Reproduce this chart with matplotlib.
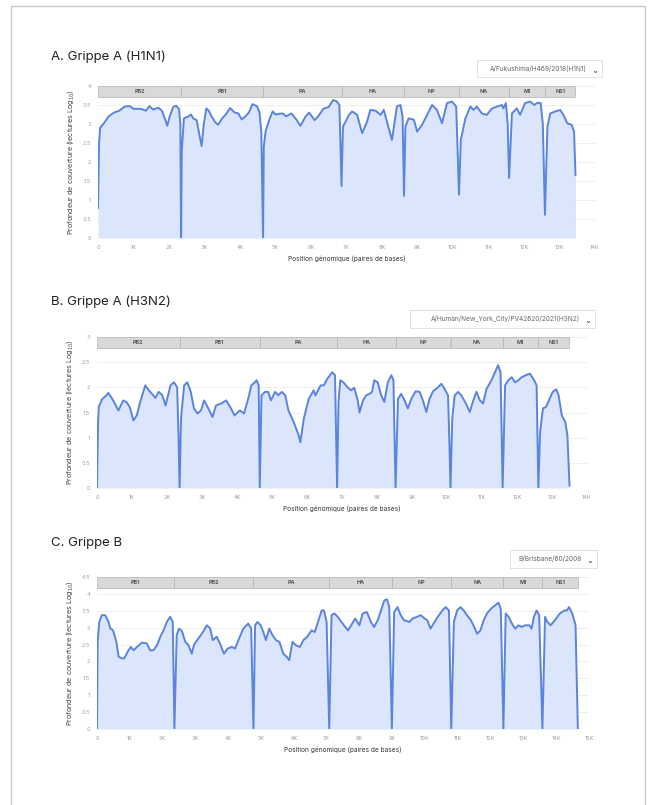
import matplotlib.pyplot as plt
from matplotlib.patches import Rectangle
import matplotlib.transforms as mtransforms

plt.rcParams['font.family'] = ['Inter', 'DejaVu Sans']

# ---- data (positions in kb, coverage in log10 reads) ----
genes_a = ["PB2", "PB1", "PA", "HA", "NP", "NA", "M1", "NS1"]
bounds_a = [0, 2.34, 4.65, 6.86, 8.62, 10.17, 11.58, 12.59, 13.45]
pos_a = [0.0, 0.03, 0.06, 0.15, 0.3, 0.45, 0.6, 0.75, 0.9, 1.0, 1.2, 1.35, 1.45, 1.55, 1.7, 1.8, 1.9, 1.95,
         2.02, 2.12, 2.2, 2.28, 2.32, 2.34, 2.36, 2.42, 2.55, 2.62, 2.68, 2.78, 2.88, 2.92, 2.98, 3.05, 3.12,
         3.2, 3.3, 3.38, 3.5, 3.6, 3.72, 3.85, 3.95, 4.05, 4.15, 4.25, 4.35, 4.48, 4.55, 4.6, 4.65, 4.67, 4.72,
         4.82, 4.92, 5.0, 5.2, 5.3, 5.45, 5.6, 5.7, 5.85, 5.95, 6.1, 6.2, 6.35, 6.5, 6.62, 6.72, 6.8, 6.86,
         6.9, 7.07, 7.16, 7.3, 7.44, 7.58, 7.67, 7.82, 7.96, 8.05, 8.14, 8.28, 8.42, 8.52, 8.58, 8.62, 8.66,
         8.75, 8.9, 8.99, 9.13, 9.27, 9.41, 9.55, 9.69, 9.83, 9.97, 10.09, 10.17, 10.22, 10.35, 10.49, 10.58,
         10.67, 10.81, 10.95, 11.1, 11.24, 11.38, 11.42, 11.49, 11.54, 11.58, 11.66, 11.8, 11.89, 12.03,
         12.17, 12.29, 12.38, 12.47, 12.53, 12.59, 12.66, 12.74, 12.88, 13.02, 13.11, 13.22, 13.34, 13.41,
         13.45]
cov_a = [0.79, 2.5, 2.9, 3.0, 3.2, 3.3, 3.35, 3.46, 3.47, 3.4, 3.4, 3.35, 3.47, 3.38, 3.43, 3.35, 3.1, 2.95,
         3.2, 3.45, 3.48, 3.4, 3.0, 0.0, 2.3, 3.15, 3.2, 3.25, 3.15, 3.1, 2.6, 2.42, 3.0, 3.41, 3.35,
         3.2, 3.05, 2.98, 3.15, 3.25, 3.42, 3.3, 3.28, 3.12, 3.2, 3.3, 3.52, 3.47, 3.3, 2.8, 0.0, 2.4, 2.8,
         3.1, 3.33, 3.25, 3.28, 3.2, 3.28, 3.1, 2.95, 3.2, 3.3, 3.1, 3.2, 3.4, 3.45, 3.63, 3.6, 3.5, 1.37,
         2.93, 3.24, 3.33, 3.24, 2.76, 3.06, 3.37, 3.35, 3.24, 3.37, 3.06, 2.58, 3.46, 3.5, 3.2, 1.11, 2.93,
         3.15, 3.11, 2.8, 2.98, 3.24, 3.5, 3.37, 3.02, 3.55, 3.59, 3.46, 1.14, 2.58, 3.15, 3.46, 3.37,
         3.46, 3.28, 3.24, 3.41, 3.46, 3.5, 3.41, 3.55, 3.0, 1.58, 3.28, 3.41, 3.24, 3.55,
         3.59, 3.5, 3.56, 3.55, 3.0, 0.61, 2.93, 3.28, 3.33, 3.37, 3.24, 3.02, 2.98, 2.8,
         1.66]

genes_b = ["PB2", "PB1", "PA", "HA", "NP", "NA", "M1", "NS1"]
bounds_b = [0, 2.36, 4.65, 6.86, 8.53, 10.1, 11.59, 12.61, 13.5]
pos_b = [0.0, 0.03, 0.05, 0.15, 0.27, 0.32, 0.41, 0.51, 0.61, 0.75, 0.85, 0.94, 1.04, 1.14, 1.23, 1.38, 1.47,
         1.67, 1.76, 1.86, 1.96, 2.1, 2.2, 2.29, 2.33, 2.36, 2.4, 2.49, 2.58, 2.68, 2.77, 2.87, 2.97, 3.06,
         3.16, 3.3, 3.4, 3.55, 3.69, 3.83, 3.93, 4.08, 4.2, 4.32, 4.41, 4.51, 4.56, 4.62, 4.65, 4.7, 4.8,
         4.89, 4.97, 5.09, 5.18, 5.28, 5.38, 5.47, 5.62, 5.76, 5.81, 5.91, 6.05, 6.19, 6.24, 6.39, 6.48,
         6.58, 6.72, 6.8, 6.86, 6.9, 6.95, 7.04, 7.16, 7.26, 7.35, 7.45, 7.5, 7.6, 7.69, 7.78, 7.86, 7.92,
         8.02, 8.12, 8.21, 8.31, 8.41, 8.47, 8.53, 8.6, 8.69, 8.79, 8.88, 8.98, 9.1, 9.22, 9.31, 9.41, 9.5,
         9.6, 9.74, 9.84, 9.93, 10.03, 10.07, 10.1, 10.15, 10.22, 10.32, 10.41, 10.54, 10.65, 10.75, 10.84,
         10.94, 11.03, 11.13, 11.27, 11.37, 11.46, 11.53, 11.59, 11.66, 11.75, 11.85, 11.94, 12.04, 12.13,
         12.28, 12.37, 12.49, 12.56, 12.61, 12.66, 12.74, 12.83, 12.93, 13.02, 13.12, 13.19, 13.28, 13.38,
         13.44, 13.5]
cov_b = [0.0, 1.3, 1.61, 1.77, 1.84, 1.89, 1.8, 1.68, 1.54, 1.74, 1.7, 1.6, 1.34, 1.45, 1.7, 2.04, 1.95,
         1.79, 1.91, 1.85, 1.64, 2.04, 2.1, 2.0, 1.0, 0.0, 1.38, 2.04, 2.1, 1.91, 1.58, 1.48, 1.54, 1.74,
         1.61, 1.41, 1.64, 1.68, 1.74, 1.58, 1.44, 1.54, 1.48, 1.77, 2.04, 2.1, 2.14, 2.04, 0.0, 1.84, 1.91,
         1.91, 1.74, 1.91, 1.84, 1.91, 1.84, 1.54, 1.31, 1.05, 0.91, 1.38, 1.77, 1.94, 1.84, 2.04, 2.04,
         2.17, 2.3, 2.24, 0.0, 1.71, 2.14, 2.1, 2.0, 1.94, 1.99, 1.74, 1.5, 1.74, 1.84, 1.87, 1.91, 2.14,
         2.1, 1.84, 1.71, 2.1, 2.24, 2.14, 0.0, 1.77, 1.87, 1.74, 1.58, 1.77, 1.92, 1.91, 1.74, 1.51, 1.77,
         1.92, 2.0, 2.07, 1.97, 1.84, 0.85, 0.0, 1.38, 1.84, 1.91, 1.84, 1.68, 1.51, 1.74, 1.91,
         1.74, 1.68, 1.97, 2.14, 2.3, 2.44, 2.3, 0.0, 2.04, 2.14, 2.2, 2.1, 2.14, 2.2,
         2.25, 2.27, 2.14, 2.04, 0.0, 1.11, 1.58, 1.61, 1.77, 1.91, 1.96, 1.84, 1.44, 1.31,
         1.05, 0.05]

genes_c = ["PB1", "PB2", "PA", "HA", "NP", "NA", "M1", "NS1"]
bounds_c = [0, 2.36, 4.77, 7.08, 8.99, 10.8, 12.39, 13.58, 14.66]
pos_c = [0.0, 0.02, 0.07, 0.15, 0.25, 0.35, 0.41, 0.49, 0.59, 0.66, 0.76, 0.83, 0.93, 1.03, 1.12, 1.22, 1.37,
         1.52, 1.62, 1.72, 1.83, 1.93, 2.03, 2.13, 2.23, 2.31, 2.36, 2.43, 2.5, 2.59, 2.69, 2.79, 2.89, 2.96,
         3.09, 3.23, 3.35, 3.45, 3.53, 3.65, 3.75, 3.87, 3.98, 4.11, 4.21, 4.31, 4.46, 4.61, 4.7, 4.77, 4.82,
         4.89, 4.99, 5.07, 5.15, 5.25, 5.35, 5.46, 5.56, 5.68, 5.78, 5.86, 5.96, 6.06, 6.19, 6.29, 6.41,
         6.54, 6.64, 6.74, 6.85, 6.92, 7.0, 7.08, 7.15, 7.24, 7.34, 7.49, 7.65, 7.75, 7.87, 8.0, 8.1, 8.23,
         8.35, 8.45, 8.56, 8.66, 8.76, 8.84, 8.91, 8.99, 9.06, 9.16, 9.26, 9.36, 9.52, 9.62, 9.75, 9.87,
         9.99, 10.07, 10.17, 10.29, 10.39, 10.53, 10.63, 10.73, 10.8, 10.88, 10.98, 11.08, 11.18, 11.28,
         11.4, 11.5, 11.59, 11.69, 11.79, 11.89, 12.01, 12.14, 12.24, 12.31, 12.39, 12.46, 12.55, 12.65,
         12.75, 12.85, 12.95, 13.05, 13.18, 13.25, 13.32, 13.4, 13.48, 13.58, 13.66, 13.73, 13.83, 13.96,
         14.11, 14.26, 14.33, 14.39, 14.49, 14.59, 14.66]
cov_c = [0.0, 2.58, 3.17, 3.37, 3.37, 3.17, 2.97, 2.92, 2.58, 2.14, 2.09, 2.09, 2.28, 2.43, 2.33, 2.43, 2.56,
         2.53, 2.33, 2.33, 2.48, 2.73, 2.92, 3.17, 3.32, 3.17, 0.0, 2.78, 2.97, 2.9, 2.58, 2.48, 2.23, 2.5,
         2.68, 2.87, 3.07, 2.98, 2.63, 2.73, 2.53, 2.23, 2.38, 2.43, 2.38, 2.63, 2.97, 3.12, 2.98, 0.0, 3.07,
         3.17, 3.07, 2.87, 2.63, 2.97, 2.78, 2.63, 2.58, 2.23, 2.14, 2.04, 2.58, 2.48, 2.43, 2.63, 2.73,
         2.92, 2.87, 3.17, 3.51, 3.51, 3.17, 0.0, 3.37, 3.42, 3.32, 3.12, 2.92, 3.07, 3.27, 3.07, 3.42, 3.46,
         3.17, 3.02, 3.22, 3.51, 3.81, 3.84, 3.61, 0.0, 3.46, 3.61, 3.37, 3.22, 3.17, 3.27, 3.32, 3.37,
         3.27, 3.22, 2.97, 3.17, 3.32, 3.51, 3.61, 3.51, 0.0, 3.17, 3.51, 3.61, 3.51, 3.37,
         3.22, 3.02, 2.82, 2.92, 3.22, 3.42, 3.56, 3.66, 3.74, 3.56, 0.0, 3.42, 3.32, 3.12,
         2.97, 3.07, 3.02, 3.07, 3.07, 2.97, 3.32, 3.51, 3.37, 0.0, 3.32, 3.17, 3.07, 3.22,
         3.42, 3.51, 3.51, 3.61, 3.42, 3.07, 0.0]

W, H = 650, 805
LINE = '#5a84dd'
FILL = '#dbe5fb'
YLABEL = 'Profondeur de couverture (lectures Log$_{10}$)'
XLABEL = 'Position génomique (paires de bases)'


def px_axes(x0, x1, y_top, y_bot):
    # axes rectangle from pixel coordinates of the reference
    return [x0 / W, (H - y_bot) / H, (x1 - x0) / W, (y_bot - y_top) / H]


def coverage_panel(fig, rect, pos, cov, bounds, genes, xmax, ymax, title, title_y, strain, box):
    ax = fig.add_axes(rect)
    ax.fill_between(pos, cov, 0, color=FILL, lw=0)
    ax.plot(pos, cov, color=LINE, lw=1.4, solid_joinstyle='round')
    ax.set_xlim(0, xmax)
    ax.set_ylim(0, ymax)

    # ticks
    ax.set_xticks(range(0, xmax + 1))
    ax.set_xticklabels(['0'] + ['%dK' % k for k in range(1, xmax + 1)])
    yt = [i * 0.5 for i in range(int(ymax * 2) + 1)]
    ax.set_yticks(yt)
    ax.set_yticklabels(['%g' % v for v in yt])
    ax.tick_params(length=0, labelsize=4, labelcolor='#a0a0a0', pad=5)
    ax.grid(axis='y', color='#ececec', lw=0.6)
    ax.set_axisbelow(True)
    for s in ax.spines.values():
        s.set_visible(False)

    ax.set_ylabel(YLABEL, fontsize=5.2, color='#444444', labelpad=4)
    ax.set_xlabel(XLABEL, fontsize=4.7, color='#333333', labelpad=4)

    # gene band on top
    trans = mtransforms.blended_transform_factory(ax.transData, ax.transAxes)
    bh = 0.072
    for i in range(len(genes)):
        r = Rectangle((bounds[i], 1 - bh), bounds[i + 1] - bounds[i], bh, transform=trans,
                      facecolor='#d9d9d9', edgecolor='#b4b4b4', lw=0.5, clip_on=False, zorder=5)
        ax.add_patch(r)
        ax.text((bounds[i] + bounds[i + 1]) / 2, 1 - bh / 2, genes[i], transform=trans,
                ha='center', va='center', fontsize=3.9, fontweight='bold', color='#555555', zorder=6)

    # panel title
    fig.text(51 / W, 1 - title_y / H, title, fontsize=9.5, color='#222222', va='center', ha='left')

    # strain dropdown
    bx0, bx1, by0, by1 = box
    fig.patches.append(Rectangle((bx0 / W, 1 - by1 / H), (bx1 - bx0) / W, (by1 - by0) / H,
                                 transform=fig.transFigure, facecolor='white', edgecolor='#e2e2e2', lw=0.7))
    fig.text((bx1 - 15) / W, 1 - (by0 + by1) / 2 / H, strain, fontsize=4.7, color='#666666',
             ha='right', va='center')
    fig.text((bx1 - 7) / W, 1 - (by0 + by1) / 2 / H - 0.002, '\u2304', fontsize=6, color='#555555',
             ha='center', va='center', family=['DejaVu Sans'], fontweight='bold')
    return ax


fig = plt.figure(figsize=(6.5, 8.05), dpi=100)

# page frame
fig.patches.append(Rectangle((11 / W, -0.01), (645 - 11) / W, 1 - 6 / H + 0.01,
                             transform=fig.transFigure, facecolor='none', edgecolor='#c8c8c8', lw=1.0))

coverage_panel(fig, px_axes(98, 595, 86, 238), pos_a, cov_a, bounds_a, genes_a, 14, 4,
               'A. Grippe A (H1N1)', 57, 'A/Fukushima/H469/2018(H1N1)', (477, 602, 60, 77))
coverage_panel(fig, px_axes(97, 587, 337, 488), pos_b, cov_b, bounds_b, genes_b, 14, 3,
               'B. Grippe A (H3N2)', 302, 'A/Human/New_York_City/PV42620/2021(H3N2)', (410, 595, 310, 328))
coverage_panel(fig, px_axes(97, 589, 577, 729), pos_c, cov_c, bounds_c, genes_c, 15, 4.5,
               'C. Grippe B', 543, 'B/Brisbane/60/2008', (510, 597, 550, 568))

fig.savefig('out.png', dpi=100)
